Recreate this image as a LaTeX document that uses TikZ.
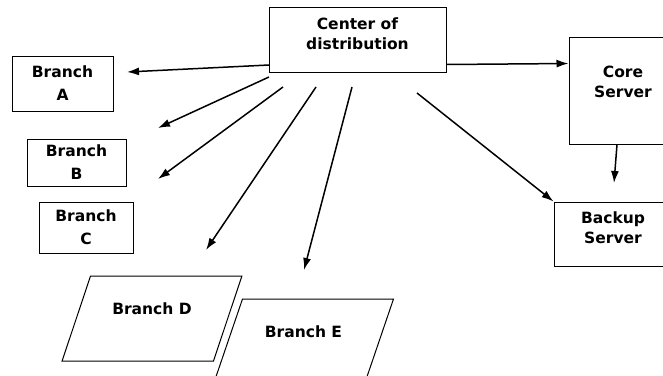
\documentclass[tikz,border=0pt]{standalone}
\usepackage{fontspec}
\setmainfont{DejaVu Sans}
\usetikzlibrary{arrows.meta,shapes.geometric}

\begin{document}
\begin{tikzpicture}[x=1pt, y=-1pt, >={Latex[length=12pt,width=8pt]},
    every node/.style={draw, line width=1pt, align=center, font=\bfseries\fontsize{15.5}{20}\selectfont},
    branch/.style={rectangle, font=\bfseries\fontsize{15.5}{23}\selectfont},
    shop/.style={trapezium, trapezium left angle=62, trapezium right angle=118,
        trapezium stretches=true, minimum width=180pt, minimum height=85pt},
    lift/.style={execute at end node={\rule[-#1pt]{0pt}{#1pt}}},
    flow/.style={->, line width=1.5pt}]
        \clip (0,0) rectangle (663,375);

        \node[minimum width=177pt, minimum height=65pt, lift=11] (center) at (357.5,39.5) {Center of\\distribution};
        \node[branch, minimum width=101pt, minimum height=55pt] (A) at (62.5,83.5) {Branch\\A};
        \node[branch, minimum width=99pt, minimum height=47pt] (B) at (76.5,162.5) {Branch\\B};
        \node[branch, minimum width=94pt, minimum height=51pt] (C) at (86,227.5) {Branch\\C};
        \node[shop, lift=19] (D) at (152,318.5) {Branch D};
        \node[shop, lift=19] (E) at (303.5,341.5) {Branch E};
        \node[minimum width=108pt, minimum height=107pt, lift=18] (core) at (623,90.5) {Core\\Server};
        \node[minimum width=118pt, minimum height=64pt, lift=13] (backup) at (613,234) {Backup\\Server};

        % free ends of the arrows
        \coordinate (fromA) at (269,65);  \coordinate (toA) at (127,72);
        \coordinate (fromB) at (269,77);  \coordinate (toB) at (158,128);
        \coordinate (fromC) at (283,87);  \coordinate (toC) at (158,179);
        \coordinate (fromD) at (316,87);  \coordinate (toD) at (206,250);
        \coordinate (fromE) at (352,87);  \coordinate (toE) at (304,270);
        \coordinate (fromBk) at (417,93); \coordinate (toBk) at (614,183);

        \draw[flow] (fromA) -- (toA);
        \draw[flow] (fromB) -- (toB);
        \draw[flow] (fromC) -- (toC);
        \draw[flow] (fromD) -- (toD);
        \draw[flow] (fromE) -- (toE);
        \draw[flow] ([yshift=8pt]center.south east) -- ([yshift=-27pt]core.north west);
        \draw[flow] (fromBk) -- (backup.north west);
        \draw[flow] ([xshift=-6pt]core.south) -- (toBk);
    \end{tikzpicture}
\end{document}
